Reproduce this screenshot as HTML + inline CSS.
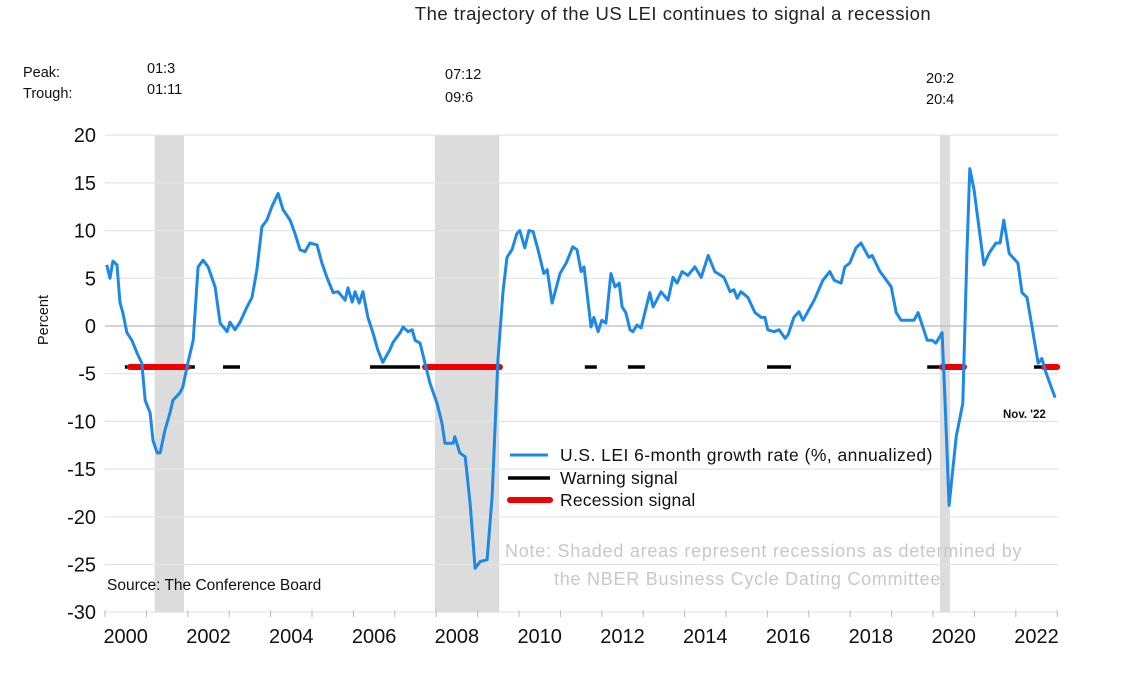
<!DOCTYPE html>
<html><head><meta charset="utf-8"><style>
body{margin:0;background:#fff;}
svg{display:block;font-family:"Liberation Sans",sans-serif;}
</style></head><body>
<svg id="chart" width="1137" height="677" viewBox="0 0 1137 677">
<text x="673" y="20" font-size="18.5" letter-spacing="0.5" fill="#222" text-anchor="middle">The trajectory of the US LEI continues to signal a recession</text>
<text x="23" y="77" font-size="14.5" fill="#111">Peak:</text>
<text x="23" y="98" font-size="14.5" fill="#111">Trough:</text>
<text x="147" y="73" font-size="14.5" fill="#111">01:3</text>
<text x="147" y="94" font-size="14.5" fill="#111">01:11</text>
<text x="445" y="79" font-size="14.5" fill="#111">07:12</text>
<text x="445" y="102" font-size="14.5" fill="#111">09:6</text>
<text x="926" y="83" font-size="14.5" fill="#111">20:2</text>
<text x="926" y="104" font-size="14.5" fill="#111">20:4</text>
<text transform="translate(48,320) rotate(-90)" font-size="14.5" fill="#111" text-anchor="middle">Percent</text>
<g id="shade"></g><g id="grid"></g><g id="signals"></g><g id="series"></g><g id="axes"></g>
<g>
<line x1="510" y1="455" x2="548" y2="455" stroke="#1e88e5" stroke-width="3"/>
<text x="560" y="461" font-size="17.5" letter-spacing="0.45" fill="#111">U.S. LEI 6-month growth rate (%, annualized)</text>
<line x1="508" y1="478" x2="550" y2="478" stroke="#000" stroke-width="3.5"/>
<text x="560" y="484" font-size="17.5" letter-spacing="0.2" fill="#111">Warning signal</text>
<line x1="510" y1="500" x2="550" y2="500" stroke="#e00" stroke-width="6" stroke-linecap="round"/>
<text x="560" y="506" font-size="17.5" letter-spacing="0.2" fill="#111">Recession signal</text>
</g>
<text x="505" y="557" font-size="18" letter-spacing="0.75" fill="#c8c8c8">Note: Shaded areas represent recessions as determined by</text>
<text x="554" y="585" font-size="18" letter-spacing="0.75" fill="#c8c8c8">the NBER Business Cycle Dating Committee.</text>
<text x="107" y="590" font-size="15.5" fill="#111">Source: The Conference Board</text>
<text x="1003" y="418" font-size="11.5" font-weight="bold" fill="#111">Nov. '22</text>
</svg>
<script>
const dates=[0.04,0.12,0.19,0.29,0.36,0.43,0.53,0.65,0.77,0.89,0.97,1.09,1.16,1.26,1.33,1.45,1.57,1.64,1.81,1.88,2.00,2.13,2.25,2.37,2.49,2.66,2.78,2.95,3.02,3.14,3.26,3.43,3.55,3.67,3.79,3.91,4.03,4.18,4.30,4.47,4.59,4.71,4.83,4.95,5.12,5.24,5.36,5.51,5.63,5.80,5.87,5.97,6.04,6.14,6.23,6.35,6.47,6.59,6.71,6.88,6.96,7.13,7.20,7.32,7.42,7.49,7.61,7.73,7.85,8.02,8.14,8.21,8.41,8.45,8.57,8.70,8.82,8.94,9.06,9.23,9.35,9.49,9.61,9.71,9.83,9.95,10.02,10.14,10.24,10.34,10.46,10.60,10.68,10.80,10.99,11.14,11.30,11.40,11.50,11.57,11.74,11.81,11.91,12.00,12.10,12.22,12.32,12.42,12.49,12.58,12.68,12.75,12.85,12.95,13.16,13.24,13.43,13.60,13.72,13.82,13.94,14.08,14.25,14.40,14.57,14.73,14.95,15.10,15.19,15.27,15.36,15.53,15.70,15.85,15.94,16.01,16.16,16.28,16.43,16.50,16.64,16.76,16.86,17.13,17.34,17.51,17.61,17.78,17.87,17.99,18.14,18.26,18.45,18.53,18.72,18.79,18.99,19.11,19.23,19.54,19.64,19.86,19.98,20.07,20.22,20.29,20.39,20.56,20.72,20.82,20.89,20.99,21.23,21.35,21.52,21.62,21.71,21.84,22.05,22.15,22.27,22.54,22.63,22.73,22.95];
const values=[6.4,5.0,6.8,6.4,2.5,1.4,-0.7,-1.5,-2.8,-3.9,-7.8,-9.1,-12,-13.3,-13.3,-10.9,-9.1,-7.8,-7,-6.4,-3.9,-1.5,6.2,6.9,6.2,4.1,0.3,-0.6,0.4,-0.4,0.4,2,3,5.9,10.4,11.1,12.5,13.9,12.2,11.1,9.7,8,7.8,8.7,8.5,6.6,5.1,3.5,3.6,2.7,4,2.5,3.6,2.4,3.6,0.9,-0.7,-2.5,-3.8,-2.5,-1.7,-0.7,-0.1,-0.6,-0.4,-1.5,-1.8,-3.9,-6,-8.1,-10.2,-12.3,-12.3,-11.6,-13.3,-13.7,-18.6,-25.4,-24.7,-24.5,-17.9,-3.6,3.5,7.2,8,9.7,10,8.2,10,9.9,8,5.5,5.9,2.4,5.5,6.6,8.3,8,5.7,6.2,-0.1,0.9,-0.6,0.6,0.3,5.5,4.1,4.5,2,1.4,-0.4,-0.6,0.1,-0.2,3.5,2,3.6,2.7,5.1,4.5,5.7,5.3,6.2,5.1,7.4,5.7,5.1,3.6,3.8,2.9,3.6,3,1.4,0.9,0.9,-0.4,-0.6,-0.4,-1.3,-0.9,0.9,1.5,0.6,2.7,4.8,5.7,4.8,4.5,6.2,6.6,8.2,8.7,7.2,7.4,5.7,5.3,4.1,1.4,0.6,0.6,1.4,-1.5,-1.5,-1.8,-0.7,-7.8,-18.8,-11.6,-8.1,7.6,16.5,14.3,6.4,7.6,8.7,8.7,11.1,7.6,6.6,3.5,3,-3.9,-3.4,-4.9,-7.5];
const recessionStarts=[1.20,7.97,20.17];
const recessionEnds=[1.91,9.52,20.41];
const warningStarts=[0.48,2.85,6.40,11.59,12.63,15.99,19.86,22.44];
const warningEnds=[2.17,3.26,7.61,11.88,13.04,16.57,20.22,22.68];
const alertStarts=[0.60,7.73,20.22,22.68];
const alertEnds=[2.00,9.54,20.75,23.0];
const signalLevel=-4.3;
const yTicks=[20,15,10,5,0,-5,-10,-15,-20,-25,-30];
const xLabels=["2000","2002","2004","2006","2008","2010","2012","2014","2016","2018","2020","2022"];
const xLabelYears=[2000,2002,2004,2006,2008,2010,2012,2014,2016,2018,2020,2022];

const NS="http://www.w3.org/2000/svg";
const X=t=>105+t*41.4;
const Y=v=>326-v*9.54;
function mk(tag,attrs,parent){const e=document.createElementNS(NS,tag);for(const k in attrs)e.setAttribute(k,attrs[k]);document.getElementById(parent).appendChild(e);return e;}

recessionStarts.forEach((s,i)=>{
  const r=mk('rect',{x:X(s),y:Y(20),width:X(recessionEnds[i])-X(s),height:Y(-30)-Y(20),fill:'#dcdcdc'},'shade');
  
  
});
yTicks.forEach(v=>{
  const l=mk('line',{x1:105,x2:1058,y1:Y(v),y2:Y(v),stroke:v===0?'#bbb':'#e3e3e3','stroke-width':1.2},'grid');
  
  
  const t=mk('text',{x:96,y:Y(v)+7,'font-size':20,'text-anchor':'end',fill:'#111'},'axes');
  t.textContent=v;
  
  
});
for(let yr=0;yr<=23;yr++){
  const tk=mk('line',{x1:X(yr),x2:X(yr),y1:Y(-30)-2,y2:Y(-30)+5,stroke:'#bbb','stroke-width':1},'axes');
  
  
}
xLabels.forEach((lab,i)=>{
  const t=mk('text',{x:X(xLabelYears[i]-2000+0.5),y:643,'font-size':20,'text-anchor':'middle',fill:'#111'},'axes');
  t.textContent=lab;
  
  
});
warningStarts.forEach((s,i)=>{
  const l=mk('line',{x1:X(s),x2:X(warningEnds[i]),y1:Y(signalLevel),y2:Y(signalLevel),stroke:'#000','stroke-width':3.5},'signals');
  
  
});
alertStarts.forEach((s,i)=>{
  const l=mk('line',{x1:X(s),x2:X(alertEnds[i]),y1:Y(signalLevel),y2:Y(signalLevel),stroke:'#e00','stroke-width':6,'stroke-linecap':'round'},'signals');
  
  
});
const d=dates.map((t,i)=>(i?'L':'M')+X(t).toFixed(1)+','+Y(values[i]).toFixed(1)).join(' ');
const p=mk('path',{d:d,fill:'none',stroke:'#1e88e5','stroke-width':3,'stroke-linejoin':'round'},'series');


</script>
</body></html>
